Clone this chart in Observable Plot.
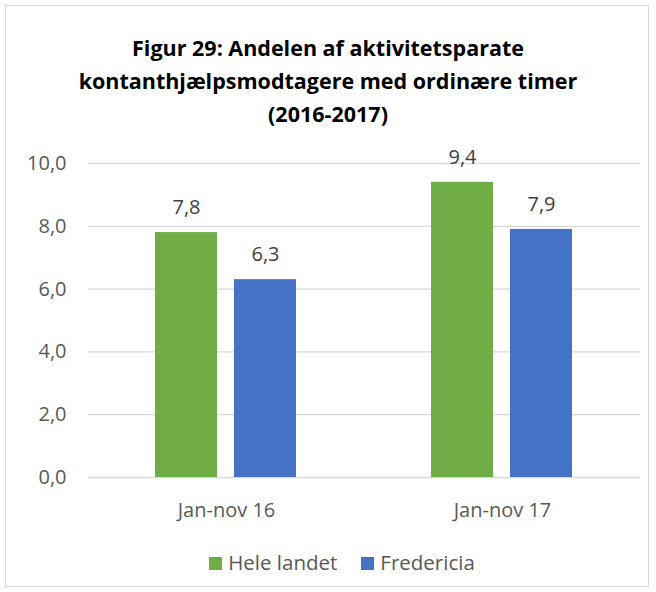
<!DOCTYPE html>
<html><head><meta charset="utf-8">
<script src="https://cdn.jsdelivr.net/npm/d3@7"></script>
<script src="https://cdn.jsdelivr.net/npm/@observablehq/plot@0.6"></script>
<style>
body{margin:0;background:#fff;font-family:"Open Sans",sans-serif;}
#frame{position:absolute;left:5px;top:5px;width:644px;height:582px;border:1px solid #d9d9d9;box-sizing:border-box;}
#title{position:absolute;left:0;top:31px;width:656px;text-align:center;font-weight:bold;font-size:21.5px;line-height:33px;color:#000;}
#chart{position:absolute;left:0;top:135px;}
#chart g[aria-label="y-axis tick label"] text,
#chart g[aria-label="fx-axis tick label"] text{font-size:20px;fill:#595959;}
#legend{position:absolute;left:14px;top:548px;width:656px;text-align:center;font-size:20.5px;line-height:28px;color:#595959;}
#legend span.sw{display:inline-block;width:13px;height:13px;margin-right:6px;vertical-align:0px;}
#legend span.it{margin:0 12px;}
</style></head>
<body>
<div id="frame"></div>
<div id="title">Figur 29: Andelen af aktivitetsparate<br>kontanthjælpsmodtagere med ordinære timer<br>(2016-2017)</div>
<div id="chart"></div>
<div id="legend"></div>
<script>
const categories = ["Jan-nov 16", "Jan-nov 17"];
const series = ["Hele landet", "Fredericia"];
const heleLandet = [7.8, 9.4];
const fredericia = [6.3, 7.9];
const yTicks = [0, 2, 4, 6, 8, 10];
const colors = ["#70AD47", "#4472C4"];

const fmt = v => d3.format(".1f")(v).replace(".", ",");
const data = [];
categories.forEach((c, i) => {
  data.push({cat: c, series: series[0], value: heleLandet[i]});
  data.push({cat: c, series: series[1], value: fredericia[i]});
});

const chart = Plot.plot({
  width: 656,
  height: 400,
  marginLeft: 88,
  marginRight: 16,
  marginTop: 28,
  marginBottom: 58,
  style: {fontFamily: "'Open Sans', sans-serif", fontSize: "20px", color: "#595959", background: "transparent"},
  fx: {domain: categories, padding: 0, label: null, axis: "bottom", tickSize: 0, tickPadding: 25},
  x: {domain: series, paddingInner: 0.215, paddingOuter: 0.854, axis: null},
  y: {domain: [0, 10], ticks: yTicks, tickFormat: fmt, label: null, tickSize: 0, tickPadding: 22},
  color: {domain: series, range: colors},
  marks: [
    Plot.ruleY(yTicks, {stroke: "#d9d9d9", strokeWidth: 1.3}),
    Plot.barY(data, {fx: "cat", x: "series", y: "value", fill: "series"}),
    Plot.text(data, {fx: "cat", x: "series", y: "value", text: d => fmt(d.value), dy: -25, fill: "#404040", fontSize: 20, lineAnchor: "middle"})
  ]
});
document.getElementById("chart").appendChild(chart);

const legend = document.getElementById("legend");
series.forEach((s, i) => {
  const it = document.createElement("span");
  it.className = "it";
  it.innerHTML = `<span class="sw" style="background:${colors[i]}"></span>${s}`;
  legend.appendChild(it);
});
</script>
</body></html>
